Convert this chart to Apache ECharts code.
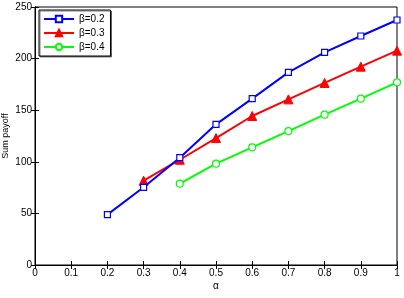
<!DOCTYPE html>
<html>
<head>
<meta charset="utf-8">
<script src="https://cdn.jsdelivr.net/npm/echarts@6/dist/echarts.min.js"></script>
<style>
  html, body { margin: 0; padding: 0; background: #fff; }
  #chart { width: 404px; height: 298px; }
</style>
</head>
<body>
<div id="chart"></div>
<script>
// alpha values on the x axis
const alphaB02 = [0.2, 0.3, 0.4, 0.5, 0.6, 0.7, 0.8, 0.9, 1.0]
const alphaB03 = [0.3, 0.4, 0.5, 0.6, 0.7, 0.8, 0.9, 1.0]
const alphaB04 = [0.4, 0.5, 0.6, 0.7, 0.8, 0.9, 1.0]

// sum payoff for each beta
const payoffB02 = [48.8, 75.3, 104, 136.3, 161.2, 186.7, 206, 221.9, 237.4]
const payoffB03 = [81.7, 102, 123, 144.4, 160.5, 176.4, 192.2, 207.7]
const payoffB04 = [78.8, 98.2, 114, 129.8, 145.7, 161.2, 177]

const seriesNames = ['β=0.2', 'β=0.3', 'β=0.4']

const pairs = (xs, ys) => xs.map((x, i) => [x, ys[i]])

const chart = echarts.init(document.getElementById('chart'))

const font = 'Liberation Sans, Arial, sans-serif'
const tickStyle = { show: true, inside: true, length: 4, lineStyle: { color: '#000' } }
const lineAxis = { show: true, lineStyle: { color: '#000', width: 1 } }

chart.setOption({
  animation: false,
  textStyle: { fontFamily: font },
  grid: {
    left: 35,
    right: 7,
    top: 7,
    bottom: 33,
    containLabel: false,
    outerBoundsMode: 'none',
    show: true,
    borderColor: '#000',
    borderWidth: 1
  },
  legend: {
    data: seriesNames,
    orient: 'vertical',
    left: 39,
    top: 10,
    itemWidth: 30,
    itemHeight: 8,
    itemGap: 4,
    padding: [4, 6, 4, 4],
    borderColor: '#000',
    borderWidth: 1,
    backgroundColor: '#fff',
    shadowColor: 'rgba(0,0,0,0.5)',
    shadowOffsetX: 1,
    shadowOffsetY: 1,
    textStyle: { fontSize: 10, color: '#000', fontFamily: font }
  },
  xAxis: [
    {
      type: 'value',
      min: 0,
      max: 1,
      interval: 0.1,
      name: 'α',
      nameLocation: 'middle',
      nameGap: 16,
      nameMoveOverlap: false,
      nameTextStyle: { fontSize: 10, color: '#000' },
      axisLine: lineAxis,
      axisTick: tickStyle,
      splitLine: { show: false },
      axisLabel: {
        fontSize: 10,
        color: '#000',
        margin: 3,
        formatter: v => String(Math.round(v * 10) / 10)
      }
    },
    {
      type: 'value',
      position: 'top',
      min: 0,
      max: 1,
      interval: 0.1,
      axisLine: lineAxis,
      axisTick: tickStyle,
      axisLabel: { show: false },
      splitLine: { show: false }
    }
  ],
  yAxis: [
    {
      type: 'value',
      min: 0,
      max: 250,
      interval: 50,
      name: 'Sum payoff',
      nameLocation: 'middle',
      nameGap: 25,
      nameMoveOverlap: false,
      nameTextStyle: { fontSize: 9, color: '#000' },
      axisLine: lineAxis,
      axisTick: tickStyle,
      splitLine: { show: false },
      axisLabel: { fontSize: 10, color: '#000', margin: 3 }
    },
    {
      type: 'value',
      position: 'right',
      min: 0,
      max: 250,
      interval: 50,
      axisLine: lineAxis,
      axisTick: tickStyle,
      axisLabel: { show: false },
      splitLine: { show: false }
    }
  ],
  series: [
    {
      name: seriesNames[0],
      type: 'line',
      data: pairs(alphaB02, payoffB02),
      symbol: 'rect',
      symbolSize: 6,
      itemStyle: { color: '#fff', borderColor: '#0000ff', borderWidth: 1.2 },
      lineStyle: { color: '#0000ff', width: 2 },
      z: 3
    },
    {
      name: seriesNames[1],
      type: 'line',
      data: pairs(alphaB03, payoffB03),
      symbol: 'triangle',
      symbolSize: 9,
      itemStyle: { color: '#ff0000', borderColor: '#ff0000', borderWidth: 1 },
      lineStyle: { color: '#ff0000', width: 2 },
      z: 2
    },
    {
      name: seriesNames[2],
      type: 'line',
      data: pairs(alphaB04, payoffB04),
      symbol: 'circle',
      symbolSize: 7,
      itemStyle: { color: '#fff', borderColor: '#00ff00', borderWidth: 1.2 },
      lineStyle: { color: '#00ff00', width: 2 },
      z: 2
    }
  ]
})
</script>
</body>
</html>
